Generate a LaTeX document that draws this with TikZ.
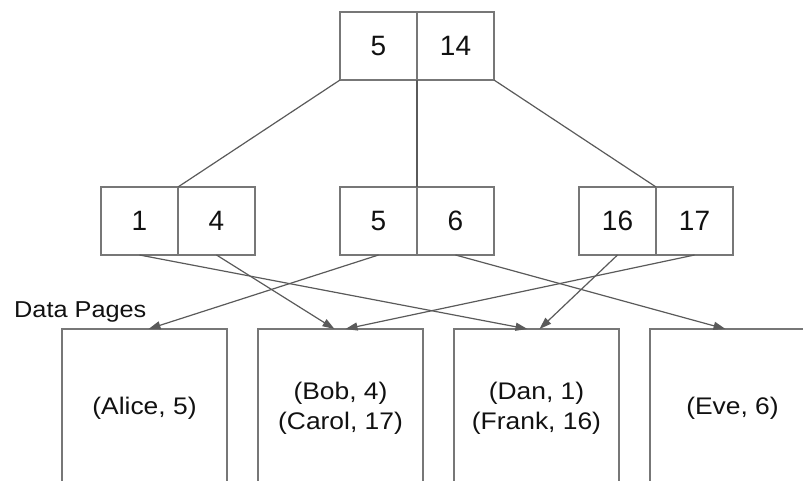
\documentclass[tikz,border=0pt]{standalone}
\usepackage{fontspec}
\setmainfont{Liberation Sans}
\newfontfamily\widefont[FakeStretch=1.1]{Liberation Sans}
\usepackage{tikz}
\usetikzlibrary{arrows.meta,positioning}
\definecolor{ink}{HTML}{111111}
\definecolor{frame}{HTML}{777777}
\definecolor{wire}{HTML}{5A5A5A}
\tikzset{
  cell/.style={draw=frame, line width=1.3pt, minimum width=77pt, minimum height=68pt, inner sep=0pt, outer sep=0pt, text=ink, font=\fontsize{28}{30}\selectfont},
  page/.style={draw=frame, line width=1.5pt, minimum width=165pt, minimum height=158pt, inner sep=0pt, outer sep=0pt, text=ink, align=center, font=\widefont\fontsize{24}{30}\selectfont},
  link/.style={draw=wire, line width=1.2pt},
  ptr/.style={link, -{Triangle[length=12pt,width=8pt]}},
  lab/.style={text=ink, font=\widefont\fontsize{23}{26}\selectfont, inner sep=0pt},
}

\begin{document}
\begin{tikzpicture}[x=1pt,y=-1pt]
\path[use as bounding box] (0,0) rectangle (803,481);
\clip (0,0) rectangle (803,481);
% root
\node[cell] (t5) at (378.5,46) {5};
\node[cell, right=0pt of t5] (t14) {14};
% inner nodes
\node[cell] (m1) at (139.5,221) {1};
\node[cell, right=0pt of m1] (m4) {4};
\node[cell] (m5) at (378.5,221) {5};
\node[cell, right=0pt of m5] (m6) {6};
\node[cell] (m16) at (617.5,221) {16};
\node[cell, right=0pt of m16] (m17) {17};
% data pages
\node[page] (alice) at (144.5,408) {(Alice, 5)};
\node[page, right=31pt of alice] (bob) {(Bob, 4)\\(Carol, 17)};
\node[page, right=31pt of bob] (dan) {(Dan, 1)\\(Frank, 16)};
\node[page, right=31pt of dan] (eve) {(Eve, 6)};
\node[lab, anchor=base west] (dplabel) at (14,317) {Data Pages};
% tree links
\draw[link] (t5.south west) -- (m1.north east);
\draw[link] (t5.south east) -- (m5.north east);
\draw[link] (t14.south east) -- (m16.north east);
% pointers to pages
\draw[ptr] (m1.south) -- ([xshift=-9pt]dan.north);
\draw[ptr] (m4.south) -- ([xshift=-6pt]bob.north);
\draw[ptr] (m5.south) -- ([xshift=4pt]alice.north);
\draw[ptr] (m6.south) -- ([xshift=-7pt]eve.north);
\draw[ptr] (m16.south) -- ([xshift=3pt]dan.north);
\draw[ptr] (m17.south) -- ([xshift=5pt]bob.north);
\end{tikzpicture}
\end{document}
